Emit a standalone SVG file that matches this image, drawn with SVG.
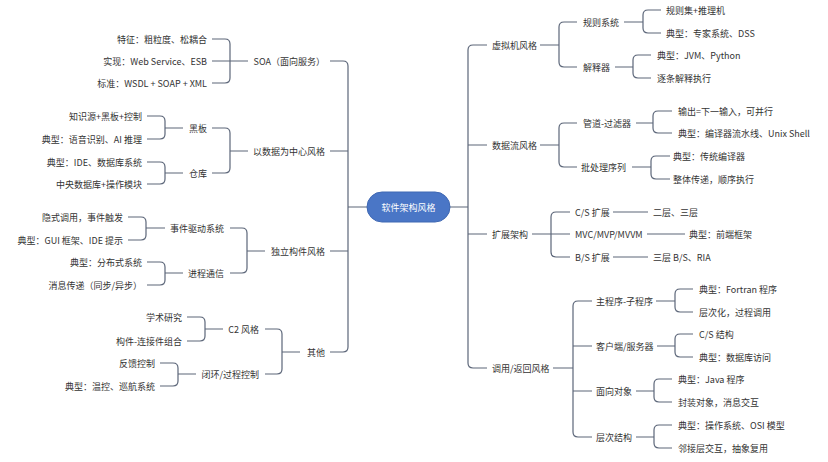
<svg xmlns="http://www.w3.org/2000/svg" width="828" height="462" viewBox="0 0 828 462">
<style>
text{font-family:"Noto Sans CJK SC","Noto Sans",sans-serif;font-size:9px;fill:#333;dominant-baseline:central}
.l{text-anchor:end}
.c{text-anchor:middle;fill:#fff}
#connectors path{fill:none;stroke:#5c6679;stroke-width:1.2}
</style>
<rect width="828" height="462" fill="#fff"/>
<g id="connectors">
<path d="M330,61 H343 Q348,61 348,66 V347 Q348,352 343,352 H330 M330,151 H348 M330,251 H348 M348,207 H367"/>
<path d="M212,39 H225 Q230,39 230,44 V78 Q230,83 225,83 H212 M212,61 H248"/>
<path d="M212,128 H225 Q230,128 230,133 V168 Q230,173 225,173 H212 M230,151 H248"/>
<path d="M147,116 H160 Q165,116 165,121 V134 Q165,139 160,139 H147 M165,128 H183"/>
<path d="M147,162 H160 Q165,162 165,167 V179 Q165,184 160,184 H147 M165,173 H183"/>
<path d="M230,228 H242 Q247,228 247,233 V268 Q247,273 242,273 H230 M247,251 H265"/>
<path d="M128,217 H141 Q146,217 146,222 V235 Q146,240 141,240 H128 M146,228 H165"/>
<path d="M147,262 H160 Q165,262 165,267 V280 Q165,285 160,285 H147 M165,273 H183"/>
<path d="M265,329 H277 Q282,329 282,334 V369 Q282,374 277,374 H265 M282,352 H300"/>
<path d="M187,317 H200 Q205,317 205,322 V336 Q205,341 200,341 H187 M205,329 H223"/>
<path d="M160,363 H173 Q178,363 178,368 V381 Q178,386 173,386 H160 M178,374 H196"/>
<path d="M487,45 H473 Q468,45 468,50 V363 Q468,368 473,368 H487 M468,145 H487 M468,234 H487 M450,207 H468"/>
<path d="M540,45 H559 M577,22 H564 Q559,22 559,27 V62 Q559,67 564,67 H577"/>
<path d="M624,22 H643 M661,10 H648 Q643,10 643,15 V28 Q643,33 648,33 H661"/>
<path d="M615,67 H633 M651,55 H638 Q633,55 633,60 V73 Q633,78 638,78 H651"/>
<path d="M540,145 H559 M577,123 H564 Q559,123 559,128 V162 Q559,167 564,167 H577"/>
<path d="M636,123 H653 M672,111 H658 Q653,111 653,116 V128 Q653,133 658,133 H672"/>
<path d="M632,167 H651 M670,156 H656 Q651,156 651,161 V174 Q651,179 656,179 H670"/>
<path d="M532,234 H570 M570,212 H556 Q551,212 551,217 V252 Q551,257 556,257 H570"/>
<path d="M613,212 H648 M647,234 H685 M613,257 H648"/>
<path d="M553,368 H573 M592,301 H578 Q573,301 573,306 V432 Q573,437 578,437 H592 M573,346 H592 M573,391 H592"/>
<path d="M656,301 H675 M693,289 H680 Q675,289 675,294 V307 Q675,312 680,312 H693"/>
<path d="M657,346 H675 M693,334 H680 Q675,334 675,339 V352 Q675,357 680,357 H693"/>
<path d="M636,391 H654 M672,379 H659 Q654,379 654,384 V397 Q654,402 659,402 H672"/>
<path d="M636,437 H654 M672,425 H659 Q654,425 654,430 V443 Q654,448 659,448 H672"/>
</g>
<g id="root"><rect x="367" y="192" width="83" height="30" rx="15" fill="#4a76c6" stroke="#3f68b3"/><text class="c" x="408.5" y="207">软件架构风格</text></g>
<g id="soa"><text class="l" x="325" y="61">SOA（面向服务）</text></g>
<g id="soa-1"><text class="l" x="207" y="39">特征：粗粒度、松耦合</text></g>
<g id="soa-2"><text class="l" x="207" y="61">实现：Web Service、ESB</text></g>
<g id="soa-3"><text class="l" x="207" y="83">标准：WSDL + SOAP + XML</text></g>
<g id="data"><text class="l" x="325" y="151">以数据为中心风格</text></g>
<g id="blackboard"><text class="l" x="207" y="128">黑板</text></g>
<g id="bb-1"><text class="l" x="142" y="116">知识源+黑板+控制</text></g>
<g id="bb-2"><text class="l" x="142" y="139">典型：语音识别、AI 推理</text></g>
<g id="repo"><text class="l" x="207" y="173">仓库</text></g>
<g id="repo-1"><text class="l" x="142" y="162">典型：IDE、数据库系统</text></g>
<g id="repo-2"><text class="l" x="142" y="184">中央数据库+操作模块</text></g>
<g id="indep"><text class="l" x="325" y="251">独立构件风格</text></g>
<g id="event"><text class="l" x="224" y="228">事件驱动系统</text></g>
<g id="event-1"><text class="l" x="123" y="217">隐式调用，事件触发</text></g>
<g id="event-2"><text class="l" x="123" y="240">典型：GUI 框架、IDE 提示</text></g>
<g id="ipc"><text class="l" x="224" y="273">进程通信</text></g>
<g id="ipc-1"><text class="l" x="142" y="262">典型：分布式系统</text></g>
<g id="ipc-2"><text class="l" x="142" y="285">消息传递（同步/异步）</text></g>
<g id="other"><text class="l" x="325" y="352">其他</text></g>
<g id="c2"><text class="l" x="259" y="329">C2 风格</text></g>
<g id="c2-1"><text class="l" x="182" y="317">学术研究</text></g>
<g id="c2-2"><text class="l" x="182" y="341">构件-连接件组合</text></g>
<g id="loop"><text class="l" x="259" y="374">闭环/过程控制</text></g>
<g id="loop-1"><text class="l" x="155" y="363">反馈控制</text></g>
<g id="loop-2"><text class="l" x="155" y="386">典型：温控、巡航系统</text></g>
<g id="vm"><text x="492" y="45">虚拟机风格</text></g>
<g id="rules"><text x="583" y="22">规则系统</text></g>
<g id="rules-1"><text x="666" y="10">规则集+推理机</text></g>
<g id="rules-2"><text x="666" y="33">典型：专家系统、DSS</text></g>
<g id="interp"><text x="583" y="67">解释器</text></g>
<g id="interp-1"><text x="657" y="55">典型：JVM、Python</text></g>
<g id="interp-2"><text x="657" y="78">逐条解释执行</text></g>
<g id="dataflow"><text x="492" y="145">数据流风格</text></g>
<g id="pipe"><text x="583" y="123">管道-过滤器</text></g>
<g id="pipe-1"><text x="678" y="111">输出=下一输入，可并行</text></g>
<g id="pipe-2"><text x="678" y="133">典型：编译器流水线、Unix Shell</text></g>
<g id="batch"><text x="581" y="167">批处理序列</text></g>
<g id="batch-1"><text x="673" y="156">典型：传统编译器</text></g>
<g id="batch-2"><text x="673" y="179">整体传递，顺序执行</text></g>
<g id="ext"><text x="492" y="234">扩展架构</text></g>
<g id="cs-ext"><text x="575" y="212">C/S 扩展</text></g>
<g id="cs-ext-1"><text x="653" y="212">二层、三层</text></g>
<g id="mvc"><text x="575" y="234">MVC/MVP/MVVM</text></g>
<g id="mvc-1"><text x="689" y="234">典型：前端框架</text></g>
<g id="bs-ext"><text x="575" y="257">B/S 扩展</text></g>
<g id="bs-ext-1"><text x="653" y="257">三层 B/S、RIA</text></g>
<g id="call"><text x="492" y="368">调用/返回风格</text></g>
<g id="main"><text x="596" y="301">主程序-子程序</text></g>
<g id="main-1"><text x="699" y="289">典型：Fortran 程序</text></g>
<g id="main-2"><text x="699" y="312">层次化，过程调用</text></g>
<g id="cs"><text x="596" y="346">客户端/服务器</text></g>
<g id="cs-1"><text x="699" y="334">C/S 结构</text></g>
<g id="cs-2"><text x="699" y="357">典型：数据库访问</text></g>
<g id="oo"><text x="596" y="391">面向对象</text></g>
<g id="oo-1"><text x="678" y="379">典型：Java 程序</text></g>
<g id="oo-2"><text x="678" y="402">封装对象，消息交互</text></g>
<g id="layer"><text x="596" y="437">层次结构</text></g>
<g id="layer-1"><text x="678" y="425">典型：操作系统、OSI 模型</text></g>
<g id="layer-2"><text x="678" y="448">邻接层交互，抽象复用</text></g>
</svg>
